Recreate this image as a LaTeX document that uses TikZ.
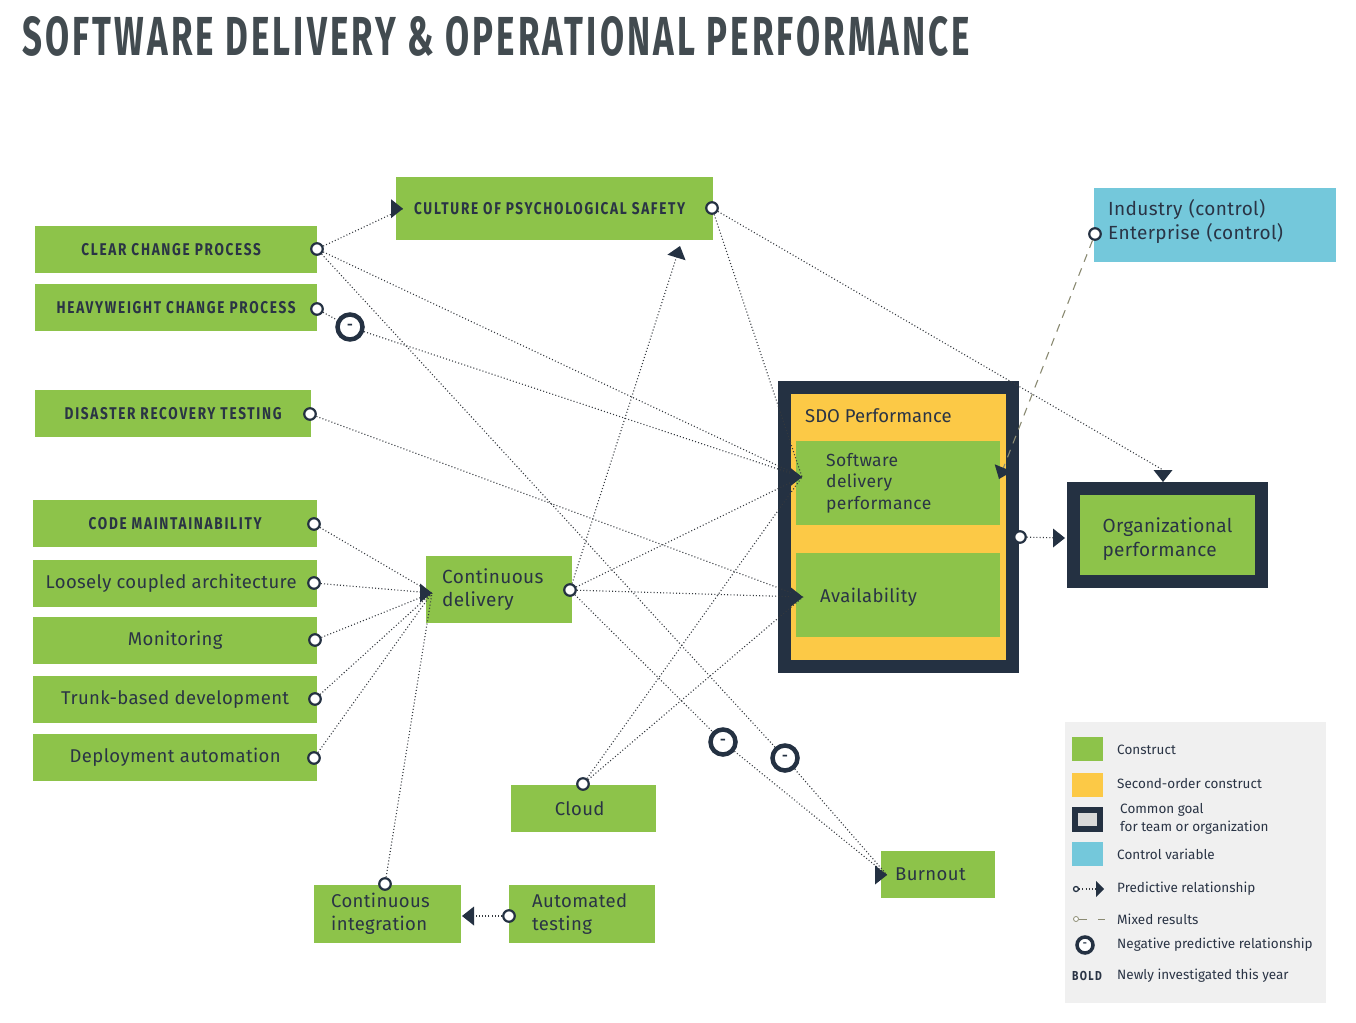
\documentclass[tikz,border=0pt]{standalone}
\usepackage{fontspec}
\setmainfont{Fira Sans}
\newfontfamily\condb[FakeStretch=0.8,LetterSpace=10]{Fira Sans}
\newfontfamily\lblf[LetterSpace=2]{Fira Sans}
\newfontfamily\ttlf[LetterSpace=9]{Fira Sans}
\usetikzlibrary{calc}
\definecolor{grn}{HTML}{8DC34A}
\definecolor{yel}{HTML}{FCC946}
\definecolor{navy}{HTML}{243142}
\definecolor{cyanb}{HTML}{74C8DB}
\definecolor{txt}{HTML}{2A3445}
\definecolor{ttl}{HTML}{424B50}
\definecolor{lnk}{HTML}{33383E}
\definecolor{mixc}{HTML}{8A8A72}
\newcommand\capsf{\condb\bfseries\fontsize{17}{20}\selectfont}
\newcommand\lblsize{\lblf\fontsize{18.5}{23}\selectfont}
\newcommand\shiftv[2]{\raisebox{#1}[\height][\depth]{#2}}
\begin{document}
\begin{tikzpicture}[x=1pt,y=-1pt,
  box/.style={fill=grn, inner sep=0pt, text=txt, anchor=north west},
  capbox/.style={box, font=\capsf},
  lblbox/.style={box, font=\lblsize},
  port/.style={circle, draw=navy, fill=white, line width=2.2pt, inner sep=0pt, minimum size=11.5pt},
  neg/.style={circle, draw=navy, fill=white, line width=4.5pt, inner sep=0pt, minimum size=25pt, font=\bfseries\fontsize{14}{14}\selectfont, text=navy},
  lk/.style={draw=lnk, line width=1.1pt, dash pattern=on 1pt off 2.2pt},
  ahead/.pic={\fill[navy] (0,0) -- (-12,-9.5) -- (-12,9.5) -- cycle;},
  legtxt/.style={anchor=west, inner sep=0pt, text=txt, font=\fontsize{13.5}{16}\selectfont}
]
\useasboundingbox (0,0) rectangle (1356,1022);
\fill[white] (0,0) rectangle (1356,1022);

% title
\node[anchor=base west, inner sep=0pt, text=ttl] (title) at (22,56)
  {\resizebox{948pt}{39pt}{\ttlf\bfseries SOFTWARE DELIVERY \& OPERATIONAL PERFORMANCE}};

% left constructs
\node[capbox, minimum width=317pt, minimum height=63pt] (cps) at (396,177) {CULTURE OF PSYCHOLOGICAL SAFETY\hspace*{10pt}};
\node[capbox, minimum width=282pt, minimum height=47pt] (ccp) at (35,226) {CLEAR CHANGE PROCESS\hspace*{10pt}};
\node[capbox, minimum width=282pt, minimum height=47pt] (hcp) at (35,284) {HEAVYWEIGHT CHANGE PROCESS};
\node[capbox, minimum width=276pt, minimum height=47pt] (drt) at (35,390) {DISASTER RECOVERY TESTING};
\node[capbox, minimum width=284pt, minimum height=47pt] (cm) at (33,500) {CODE MAINTAINABILITY};
\node[lblbox, minimum width=284pt, minimum height=47pt] (lca) at (33,560) {Loosely coupled architecture\hspace*{8pt}};
\node[lblbox, minimum width=284pt, minimum height=47pt] (mon) at (33,617) {Monitoring};
\node[lblbox, minimum width=284pt, minimum height=47pt] (tbd) at (33,676) {Trunk-based development};
\node[lblbox, minimum width=284pt, minimum height=47pt] (da) at (33,734) {Deployment automation};

\node[lblbox, font=\lblf\fontsize{19}{22.5}\selectfont, minimum width=146pt, minimum height=67pt, text width=114pt, inner xsep=16pt, align=left] (cd) at (426,556) {Continuous\\delivery};
\node[lblbox, minimum width=145pt, minimum height=47pt] (cloud) at (511,785) {Cloud\hspace*{8pt}};
\node[lblbox, minimum width=147pt, minimum height=58pt, text width=113pt, inner xsep=17pt, align=left] (ci) at (314,885) {Continuous\\integration};
\node[lblbox, minimum width=146pt, minimum height=58pt, text width=100pt, inner xsep=23pt, align=left] (at) at (509,885) {Automated\\testing};
\node[lblbox, minimum width=114pt, minimum height=47pt, text width=86pt, inner xsep=14pt, align=left] (burn) at (881,851) {Burnout};

% SDO performance
\node[draw=navy, line width=13pt, fill=yel, minimum width=228pt, minimum height=279pt, inner sep=0pt] (sdo) at (898.5,527) {};
\node[anchor=west, inner sep=0pt, text=txt, font=\fontsize{18.5}{22}\selectfont] (sdot) at (805,416) {SDO Performance};
\node[box, font=\lblf\fontsize{17.5}{21.5}\selectfont, minimum width=204pt, minimum height=84pt, text width=174pt, inner xsep=15pt, align=left] (sdp) at (796,441) {\hspace*{15pt}Software\\\hspace*{15pt}delivery\\\hspace*{15pt}performance};
\node[box, font=\lblsize, minimum width=204pt, minimum height=84pt, text width=180pt, inner xsep=12pt, align=left] (av) at (796,553) {\hspace*{12pt}\shiftv{-2pt}{Availability}};

% organizational performance
\node[draw=navy, line width=13pt, fill=grn, minimum width=188pt, minimum height=93pt, inner sep=0pt, text=txt, font=\lblf\fontsize{19}{24}\selectfont, align=left] (org) at (1167.5,535) {\shiftv{-4pt}{Organizational}\\\shiftv{-4pt}{performance}};

% control variable
\node[fill=cyanb, anchor=north west, minimum width=242pt, minimum height=74pt, text width=214pt, inner xsep=14pt, align=left, text=txt, font=\lblf\fontsize{19}{24}\selectfont] (ind) at (1094,188) {\shiftv{4pt}{Industry (control)}\\\shiftv{4pt}{Enterprise (control)}};

% ports
\node[port] (ccp-o) at (317,249) {};
\node[port] (hcp-o) at (317,309) {};
\node[port] (drt-o) at (310,414) {};
\node[port] (cm-o) at (314,524) {};
\node[port] (lca-o) at (314,583) {};
\node[port] (mon-o) at (315,640) {};
\node[port] (tbd-o) at (315,699) {};
\node[port] (da-o) at (314,758) {};
\node[port] (cd-o) at (570,590) {};
\node[port] (cps-o) at (712,208) {};
\node[port] (cloud-o) at (583,784) {};
\node[port] (ci-o) at (385,884) {};
\node[port] (at-o) at (509,916) {};
\node[port] (sdo-o) at (1020,537) {};
\node[port] (ind-o) at (1095,234) {};

\node[neg] (neg1) at (350,327) {-};
\node[neg] (neg2) at (723,742) {-};
\node[neg] (neg3) at (785,758) {-};

% arrow tip points
\coordinate (cps-inL) at ($(cps.west)+(7,0)$);
\coordinate (cps-inB) at (680,246);
\coordinate (sdp-inL) at (802,477);
\coordinate (sdp-inR) at (999,479);
\coordinate (av-in) at (803,597);
\coordinate (cd-in) at (432,593);
\coordinate (burn-in) at (887,875);
\coordinate (ci-in) at (462,916);
\coordinate (org-inL) at (1065,538);
\coordinate (org-inT) at (1163,482);
\coordinate (org-preT) at (1163,470);

% connectors
\draw[lk] (ccp-o) -- (cps-inL);
\draw[lk] (ccp-o) -- (sdp-inL);
\draw[lk] (ccp-o) -- (neg3) -- (burn-in);
\draw[lk] (hcp-o) -- (neg1) -- (sdp-inL);
\draw[lk] (drt-o) -- (av-in);
\draw[lk] (cps-o) -- (sdp-inL);
\draw[lk] (cps-o) -- (org-preT) -- (org-inT);
\foreach \s in {cm-o,lca-o,mon-o,tbd-o,da-o,ci-o} \draw[lk] (\s) -- (cd-in);
\draw[lk] (cd-o) -- (cps-inB);
\draw[lk] (cd-o) -- (sdp-inL);
\draw[lk] (cd-o) -- (av-in);
\draw[lk] (cd-o) -- (neg2) -- (burn-in);
\draw[lk] (cloud-o) -- (sdp-inL);
\draw[lk] (cloud-o) -- (av-in);
\draw[lk] (at-o) -- (ci-in);
\draw[lk] (sdo-o) -- (org-inL);
\draw[draw=mixc, line width=1.1pt, dash pattern=on 8pt off 7pt] (ind-o) -- (sdp-inR);

% arrowheads (rotation is in page orientation: positive = counter-clockwise)
\pic at (cps-inL) {ahead};
\pic[rotate=73] at (cps-inB) {ahead};
\pic at (sdp-inL) {ahead};
\pic at (av-in) {ahead};
\pic at (cd-in) {ahead};
\pic at (burn-in) {ahead};
\pic[rotate=180] at (ci-in) {ahead};
\pic at (org-inL) {ahead};
\pic[rotate=-90] at (org-inT) {ahead};
\pic[rotate=-112] at (sdp-inR) {ahead};

% legend
\fill[black!6] (1065,722) rectangle (1326,1003);
\fill[grn] (1072,737) rectangle (1103,761);
\node[legtxt] (l1) at (1117,750) {Construct};
\fill[yel] (1072,773) rectangle (1103,797);
\node[legtxt] (l2) at (1117,784) {Second-order construct};
\fill[navy] (1072,807) rectangle (1103,832);
\fill[black!15] (1078,813) rectangle (1097,826);
\node[legtxt, align=left, font=\fontsize{13.5}{18}\selectfont] (l3) at (1120,819) {Common goal\\for team or organization};
\fill[cyanb] (1072,842) rectangle (1103,866);
\node[legtxt] (l4) at (1117,854) {Control variable};
\node[circle, draw=navy, fill=white, line width=1.3pt, inner sep=0pt, minimum size=5pt] (lp) at (1076,889) {};
\coordinate (lpt) at (1104,889);
\draw[lk] (lp) -- (1097,889);
\fill[navy] (lpt) -- (1096,881) -- (1096,897) -- cycle;
\node[legtxt] (l5) at (1117,889) {Predictive relationship};
\node[circle, draw=mixc, fill=white, line width=0.8pt, inner sep=0pt, minimum size=5pt] (lm) at (1076,919) {};
\draw[mixc, line width=1pt] (lm) -- (1087,919) (1098,919) -- (1105,919);
\node[legtxt] (l6) at (1117,919) {Mixed results};
\node[circle, draw=navy, fill=white, line width=3.5pt, inner sep=0pt, minimum size=16pt, font=\bfseries\fontsize{10}{10}\selectfont, text=navy] (ln) at (1085,945) {-};
\node[legtxt] (l7) at (1117,945) {Negative predictive relationship};
\node[legtxt, font=\condb\bfseries\fontsize{13}{16}\selectfont] (lb) at (1072,976) {BOLD};
\node[legtxt] (l8) at (1117,976) {Newly investigated this year};
\end{tikzpicture}
\end{document}
